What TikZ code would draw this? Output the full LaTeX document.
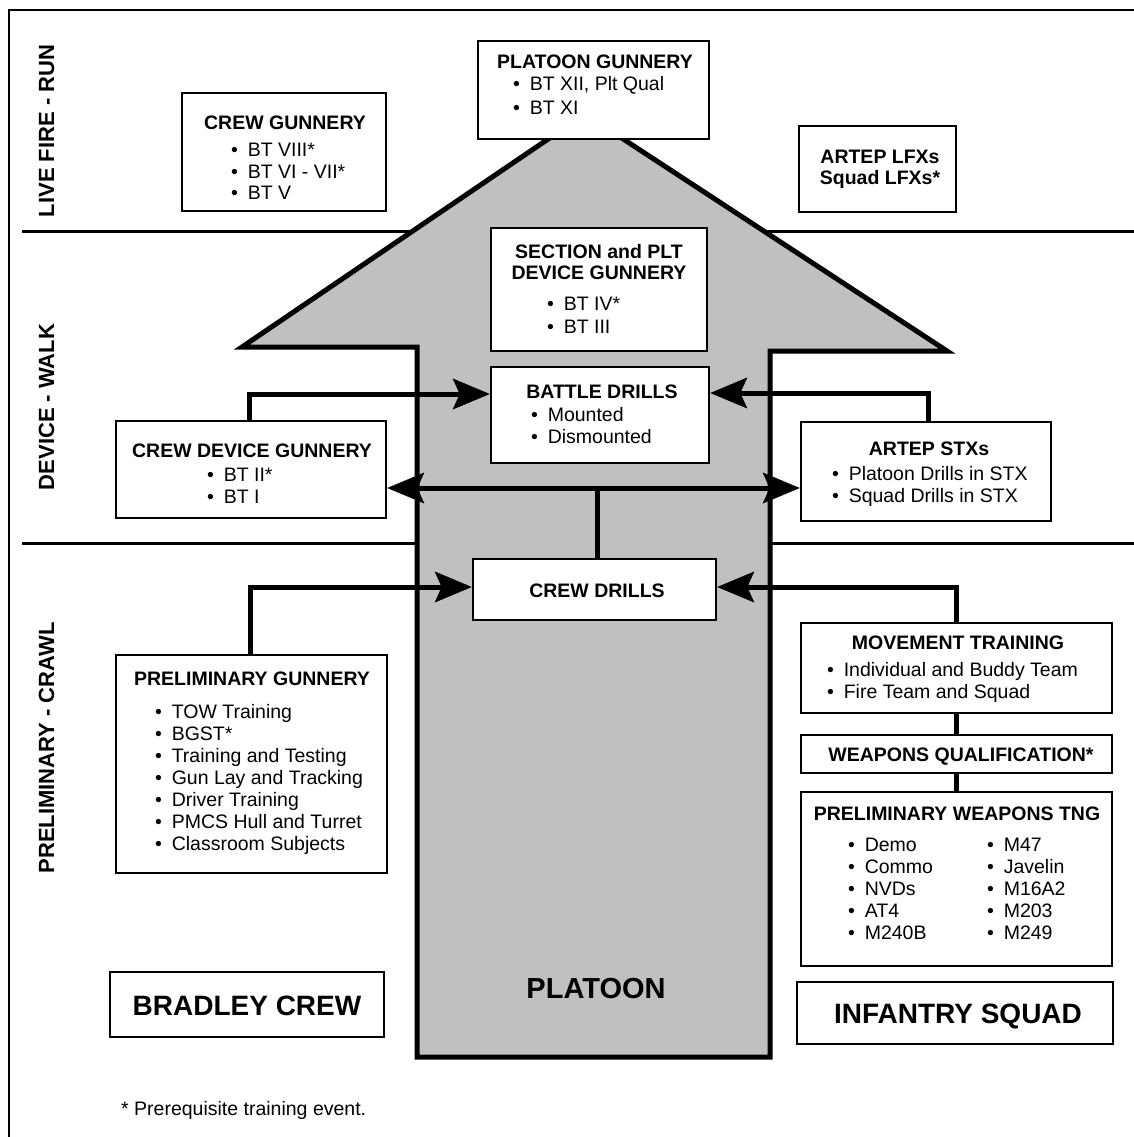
\documentclass[tikz,border=0pt]{standalone}
\usepackage{fontspec}
\setmainfont{Liberation Sans}
\usetikzlibrary{arrows.meta}
\definecolor{arrowgray}{HTML}{C0C0C0}
\newcommand{\mybul}{•\hspace{0.5em}}
\begin{document}
\begin{tikzpicture}[x=1pt,y=-1pt,
  box/.style={draw=black, line width=2.6pt, fill=white, inner sep=0pt},
  hd/.style={font=\fontsize{19.5}{22}\selectfont\bfseries, inner sep=0pt, text height=14pt, text depth=0pt},
  itm/.style={font=\fontsize{19.5}{22}\selectfont, inner sep=0pt, anchor=west, text height=14pt, text depth=0pt},
  big/.style={font=\fontsize{28}{32}\selectfont\bfseries, inner sep=0pt, text height=20pt, text depth=0pt},
  band/.style={font=\fontsize{22}{26}\selectfont\bfseries, inner sep=0pt, rotate=90, text height=16pt, text depth=0pt},
  tip/.style={Stealth[length=37pt,width=31pt,inset=7pt,line width=0.5pt]},
  conn/.style={line width=5pt, -{Stealth[length=37pt,width=31pt,inset=7pt,line width=0.5pt]}},
  dconn/.style={line width=5pt, {Stealth[length=37pt,width=31pt,inset=7pt,line width=0.5pt]}-{Stealth[length=37pt,width=31pt,inset=7pt,line width=0.5pt]}},
  plain/.style={line width=5pt},
  bandline/.style={line width=3pt}
]
\useasboundingbox (0,0) rectangle (1134,1137);
\fill[white] (0,0) rectangle (1134,1137);

% frame
\draw[line width=2.5pt] (9,1137) -- (9,10) -- (1134,10);

% band separators
\draw[bandline] (22,231.5) -- (1134,231.5);
\draw[bandline] (22,543) -- (1134,543);

% band labels
\node[band] (lrun) at (46,131) {LIVE FIRE - RUN};
\node[band] (lwalk) at (46,407) {DEVICE - WALK};
\node[band] (lcrawl) at (46,748) {PRELIMINARY - CRAWL};

% big arrow
\draw[line width=5pt, fill=arrowgray, line join=miter]
  (417,1057) -- (417,347) -- (242,347) -- (585,114) -- (947,351) -- (770,351) -- (770,1057) -- cycle;

% box nodes
\node[box, minimum width=204pt, minimum height=118pt] (cg) at (284,152) {};
\node[box, minimum width=231pt, minimum height=98pt] (pg) at (593.5,90) {};
\node[box, minimum width=157pt, minimum height=86pt] (lfx) at (877.5,169) {};
\node[box, minimum width=216pt, minimum height=123pt] (sec) at (599,289.5) {};
\node[box, minimum width=218pt, minimum height=96pt] (bd) at (600,415) {};
\node[box, minimum width=270pt, minimum height=97pt] (cdg) at (251,469.5) {};
\node[box, minimum width=250pt, minimum height=99pt] (stx) at (926,471.5) {};
\node[box, minimum width=243pt, minimum height=61pt] (cd) at (594.5,589.5) {};
\node[box, minimum width=271pt, minimum height=218pt] (pgun) at (251.5,764) {};
\node[box, minimum width=311pt, minimum height=90pt] (mt) at (956.5,668) {};
\node[box, minimum width=311pt, minimum height=38pt] (wq) at (956.5,754) {};
\node[box, minimum width=311pt, minimum height=174pt] (pwt) at (956.5,879) {};
\node[box, minimum width=274pt, minimum height=65pt] (brc) at (247,1004.5) {};
\node[box, minimum width=316pt, minimum height=62pt] (inf) at (955,1013) {};

% connectors
\coordinate (j1) at (249,394);
\coordinate (j2) at (928,393);
\coordinate (j3) at (597,488);
\coordinate (j4) at (250,587);
\coordinate (j5) at (956,587);
\draw[conn] (cdg.north -| j1) |- (bd.west |- j1);
\draw[conn] (stx.north -| j2) |- (bd.east |- j2);
\draw[dconn] (cdg.east |- j3) -- (stx.west |- j3);
\draw[plain] (cd.north -| j3) -- (j3);
\draw[conn] (pgun.north -| j4) |- (cd.west |- j4);
\draw[conn] (mt.north -| j5) |- (cd.east |- j5);
\draw[plain] (mt.south -| j5) -- (wq.north -| j5);
\draw[plain] (wq.south -| j5) -- (pwt.north -| j5);

% texts: crew gunnery
\node[hd] (cgh) at (285,122) {CREW GUNNERY};
\node[itm] (cg1) at (231,150) {\mybul BT VIII*};
\node[itm] (cg2) at (231,171) {\mybul BT VI - VII*};
\node[itm] (cg3) at (231,192) {\mybul BT V};

% platoon gunnery
\node[hd] (pgh) at (595,62) {PLATOON GUNNERY};
\node[itm] (pg1) at (513,84) {\mybul BT XII, Plt Qual};
\node[itm] (pg2) at (513,107) {\mybul BT XI};

% artep lfx
\node[hd] (lfx1) at (880,156) {ARTEP LFXs};
\node[hd] (lfx2) at (880,177) {Squad LFXs*};

% section and plt
\node[hd] (sech1) at (599,251) {SECTION and PLT};
\node[hd] (sech2) at (599,272) {DEVICE GUNNERY};
\node[itm] (sec1) at (547,303) {\mybul BT IV*};
\node[itm] (sec2) at (547,326) {\mybul BT III};

% battle drills
\node[hd] (bdh) at (602,391) {BATTLE DRILLS};
\node[itm] (bd1) at (531,414) {\mybul Mounted};
\node[itm] (bd2) at (531,436) {\mybul Dismounted};

% crew device gunnery
\node[hd] (cdgh) at (252,450) {CREW DEVICE GUNNERY};
\node[itm] (cdg1) at (207,474) {\mybul BT II*};
\node[itm] (cdg2) at (207,496) {\mybul BT I};

% artep stx
\node[hd] (stxh) at (929,448) {ARTEP STXs};
\node[itm] (stx1) at (832,473) {\mybul Platoon Drills in STX};
\node[itm] (stx2) at (832,495) {\mybul Squad Drills in STX};

% crew drills
\node[hd] (cdh) at (597,590) {CREW DRILLS};

% preliminary gunnery
\node[hd] (pgunh) at (252,678) {PRELIMINARY GUNNERY};
\node[itm] (pgun1) at (155,711) {\mybul TOW Training};
\node[itm] (pgun2) at (155,733) {\mybul BGST*};
\node[itm] (pgun3) at (155,755) {\mybul Training and Testing};
\node[itm] (pgun4) at (155,777) {\mybul Gun Lay and Tracking};
\node[itm] (pgun5) at (155,799) {\mybul Driver Training};
\node[itm] (pgun6) at (155,821) {\mybul PMCS Hull and Turret};
\node[itm] (pgun7) at (155,843) {\mybul Classroom Subjects};

% movement training
\node[hd] (mth) at (958,642) {MOVEMENT TRAINING};
\node[itm] (mt1) at (827,669) {\mybul Individual and Buddy Team};
\node[itm] (mt2) at (827,691) {\mybul Fire Team and Squad};

% weapons qualification
\node[hd] (wqh) at (961,754) {WEAPONS QUALIFICATION*};

% preliminary weapons tng
\node[hd] (pwth) at (957,813) {PRELIMINARY WEAPONS TNG};
\node[itm] (pa1) at (848,844) {\mybul Demo};
\node[itm] (pa2) at (848,866) {\mybul Commo};
\node[itm] (pa3) at (848,888) {\mybul NVDs};
\node[itm] (pa4) at (848,910) {\mybul AT4};
\node[itm] (pa5) at (848,932) {\mybul M240B};
\node[itm] (pb1) at (987,844) {\mybul M47};
\node[itm] (pb2) at (987,866) {\mybul Javelin};
\node[itm] (pb3) at (987,888) {\mybul M16A2};
\node[itm] (pb4) at (987,910) {\mybul M203};
\node[itm] (pb5) at (987,932) {\mybul M249};

% bottom labels
\node[big] (brct) at (247,1005) {BRADLEY CREW};
\node[big] (inft) at (958,1013) {INFANTRY SQUAD};
\node[big, font=\fontsize{29}{33}\selectfont\bfseries] (plt) at (596,988) {PLATOON};

% footnote
\node[itm] (fn) at (121,1108) {* Prerequisite training event.};
\end{tikzpicture}
\end{document}
